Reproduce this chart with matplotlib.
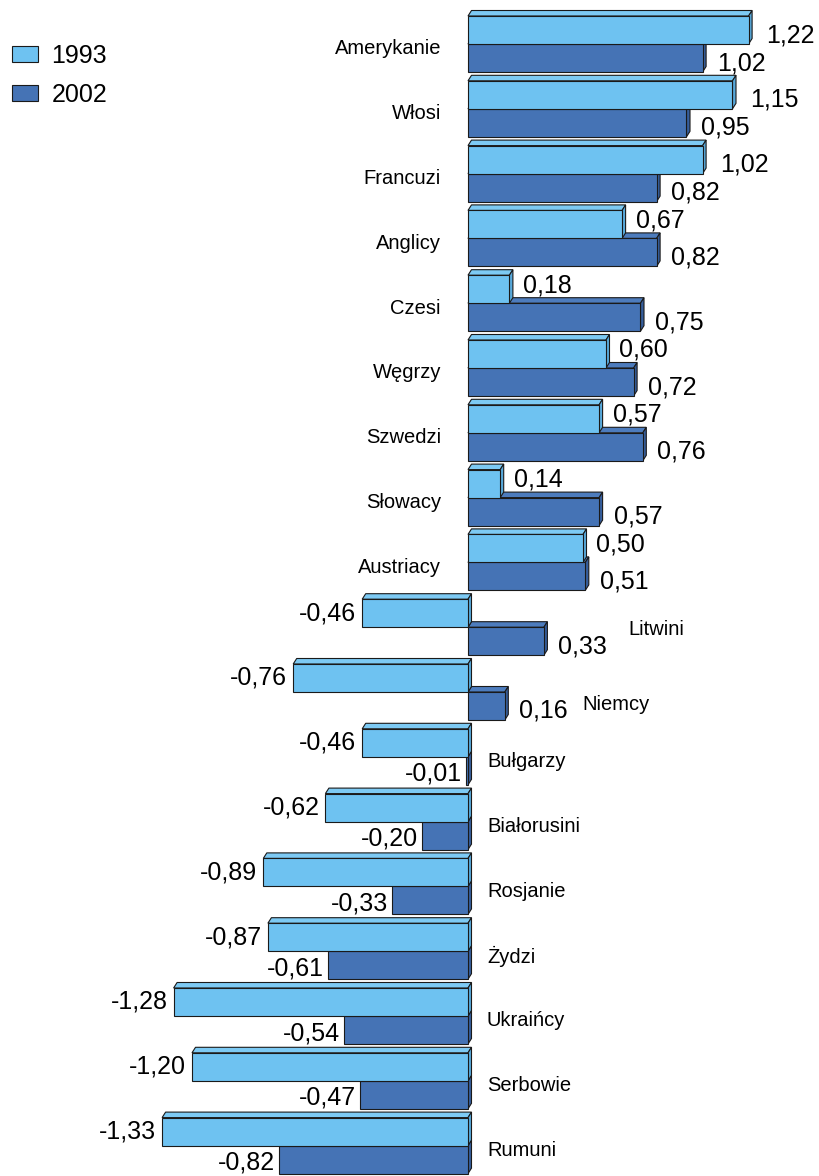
import numpy as np
import matplotlib
matplotlib.use("Agg")
import matplotlib.pyplot as plt
from matplotlib.patches import Polygon, Patch

plt.rcParams['font.family'] = ['Liberation Sans', 'DejaVu Sans']

categories = ["Amerykanie", "Włosi", "Francuzi", "Anglicy", "Czesi", "Węgrzy",
              "Szwedzi", "Słowacy", "Austriacy", "Litwini", "Niemcy", "Bułgarzy",
              "Białorusini", "Rosjanie", "Żydzi", "Ukraińcy", "Serbowie", "Rumuni"]
v1993 = [1.22, 1.15, 1.02, 0.67, 0.18, 0.60, 0.57, 0.14, 0.50,
         -0.46, -0.76, -0.46, -0.62, -0.89, -0.87, -1.28, -1.20, -1.33]
v2002 = [1.02, 0.95, 0.82, 0.82, 0.75, 0.72, 0.76, 0.57, 0.51,
         0.33, 0.16, -0.01, -0.20, -0.33, -0.61, -0.54, -0.47, -0.82]
series = ["1993", "2002"]

# pixel scale of the figure (axes fill the whole figure)
W, H = 820, 1176
X0, SX = 468, 230.0      # zero line position, px per unit
Y0, SY = 44, 64.8        # first group centre, px per group

fig = plt.figure(figsize=(W / 100, H / 100), dpi=100)
ax = fig.add_axes([0, 0, 1, 1])
ax.set_xlim(-X0 / SX, (W - X0) / SX)
ax.set_ylim((H - Y0) / SY, -Y0 / SY)
ax.axis('off')

def px(dx):
    return dx / SX

def py(dy):
    return dy / SY

BH = 28 / SY
DX, DY = px(3.5), py(5.5)
light = dict(front="#6EC2F1", top="#7DCAF4", side="#58A9DB")
dark = dict(front="#4573B5", top="#4D7CBD", side="#365E9C")
EC = "#1a1a1a"

y = np.arange(len(categories))

def bars3d(vals, ys, col, z):
    rects = ax.barh(ys, vals, height=BH, align='edge', color=col["front"],
                    edgecolor=EC, linewidth=0.8, zorder=z + 1)
    for r in rects:
        x0, yt = r.get_x(), r.get_y()
        w, h = r.get_width(), r.get_height()
        xa, xb = min(x0, x0 + w), max(x0, x0 + w)
        yb = yt + h
        top = [(xa, yt), (xa + DX, yt - DY), (xb + DX, yt - DY), (xb, yt)]
        side = [(xb, yt), (xb + DX, yt - DY), (xb + DX, yb - DY), (xb, yb)]
        ax.add_patch(Polygon(top, closed=True, fc=col["top"], ec=EC, lw=0.8, zorder=z))
        ax.add_patch(Polygon(side, closed=True, fc=col["side"], ec=EC, lw=0.8, zorder=z))

bars3d(v2002, y, dark, 1)
bars3d(v1993, y - BH, light, 3)

def fmt(v):
    return f"{v:.2f}".replace(".", ",")

VFS = 18
for i, (a, b) in enumerate(zip(v1993, v2002)):
    # 1993 labels
    yc = i - BH / 2
    if a >= 0:
        if b > a:
            ax.text(a + DX + px(10), yc - py(4), fmt(a), ha='left', va='center', fontsize=VFS)
        else:
            ax.text(a + DX + px(14), yc + py(5), fmt(a), ha='left', va='center', fontsize=VFS)
    else:
        ax.text(a - px(6), yc, fmt(a), ha='right', va='center', fontsize=VFS)
    # 2002 labels
    yc = i + BH / 2
    if b >= 0:
        ax.text(b + DX + px(11), yc + py(5), fmt(b), ha='left', va='center', fontsize=VFS)
    else:
        ax.text(b - px(4), yc + py(3), fmt(b), ha='right', va='center', fontsize=VFS)

# category labels
label_x = {"Litwini": px(628 - X0), "Niemcy": px(582 - X0)}
label_dy = {"Niemcy": py(12), "Litwini": py(2)}
for i, (c, a) in enumerate(zip(categories, v1993)):
    yy = i + label_dy.get(c, py(5))
    if c in label_x:
        ax.text(label_x[c], yy, c, ha='left', va='center', fontsize=14.5)
    elif a >= 0:
        ax.text(-px(27), yy, c, ha='right', va='center', fontsize=14.5)
    else:
        ax.text(px(19), yy, c, ha='left', va='center', fontsize=14.5)

handles = [Patch(fc=light["front"], ec=EC, lw=0.8), Patch(fc=dark["front"], ec=EC, lw=0.8)]
fig.legend(handles, series, loc='upper left', bbox_to_anchor=(0.008, 0.967),
           frameon=False, fontsize=VFS, handlelength=1.05, handleheight=0.65,
           handletextpad=0.55, labelspacing=0.6, borderaxespad=0.0,
           borderpad=0.2)

fig.savefig("out.png", dpi=100)
